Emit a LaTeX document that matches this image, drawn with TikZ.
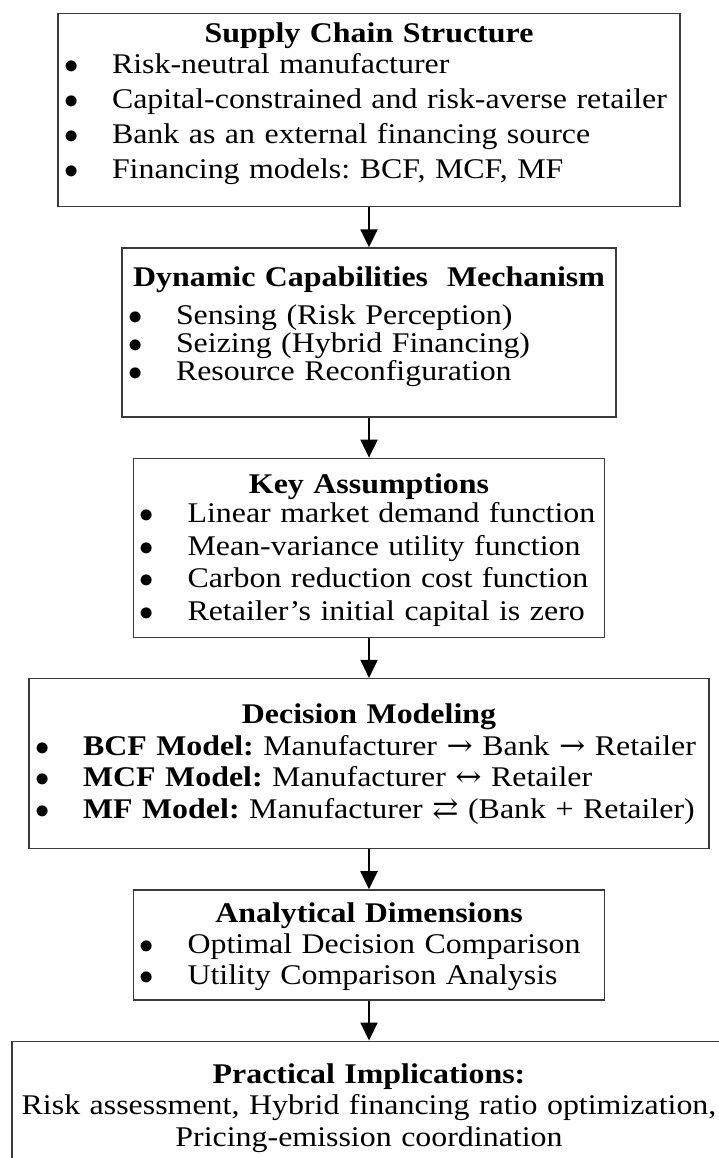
\documentclass[tikz,border=0pt]{standalone}
\usepackage{fix-cm}
\usepackage{fontspec}
\setmainfont{Liberation Serif}[FakeStretch=1.12]
\newfontfamily\arrowfont{DejaVu Serif}[FakeStretch=1.1]
\usetikzlibrary{arrows.meta, positioning}
\definecolor{framegray}{HTML}{3A3A3A}
% one bullet line, flush left inside the panel
\newcommand{\bitem}[1]{\makebox[\linewidth][l]{\hspace*{6pt}\makebox[48pt][l]{$\bullet$}#1}}
\newcommand{\arr}[1]{{\arrowfont #1}}
\frenchspacing

\begin{document}
\begin{tikzpicture}[
    x=1pt, y=1pt,
    node distance=40pt,
    panel/.style={rectangle, draw=framegray, line width=1.3pt, inner xsep=0pt, inner ysep=0pt, align=center},
    arrow/.style={-{Triangle[length=18pt, width=17pt]}, line width=2pt}
]
\useasboundingbox (0,0) rectangle (718,-1158);

\node[panel, anchor=north, text width=622pt, text height=29pt, text depth=164pt,
      font=\fontsize{28.5}{35}\selectfont] (structure) at (369,-13)
    {\textbf{Supply Chain Structure}\\[-4pt]
     \bitem{Risk-neutral manufacturer}\\
     \bitem{Capital-constrained and risk-averse retailer}\\
     \bitem{Bank as an external financing source}\\
     \bitem{Financing models: BCF, MCF, MF}};

\node[panel, below=of structure, text width=494pt, text height=39pt, text depth=130pt,
      font=\fontsize{28.5}{28}\selectfont] (mechanism)
    {\textbf{Dynamic Capabilities~ Mechanism}\\[10pt]
     \bitem{Sensing (Risk Perception)}\\
     \bitem{Seizing (Hybrid Financing)}\\
     \bitem{Resource Reconfiguration}};

\node[panel, below=of mechanism, text width=471pt, text height=35pt, text depth=144pt,
      font=\fontsize{28.5}{32.5}\selectfont] (assumptions)
    {\textbf{Key Assumptions}\\[-3pt]
     \bitem{Linear market demand function}\\
     \bitem{Mean-variance utility function}\\
     \bitem{Carbon reduction cost function}\\
     \bitem{Retailer's initial capital is zero}};

\node[panel, below=of assumptions, text width=680pt, text height=45pt, text depth=125pt,
      font=\fontsize{28.5}{31.5}\selectfont] (modeling)
    {\textbf{Decision Modeling}\\
     \bitem{\textbf{BCF Model:} Manufacturer \arr{→} Bank \arr{→} Retailer}\\
     \bitem{\textbf{MCF Model:} Manufacturer \arr{↔} Retailer}\\
     \bitem{\textbf{MF Model:} Manufacturer \arr{⇄} (Bank + Retailer)}};

\node[panel, below=of modeling, text width=471pt, text height=33pt, text depth=77pt,
      font=\fontsize{28.5}{31}\selectfont] (dimensions)
    {\textbf{Analytical Dimensions}\\
     \bitem{Optimal Decision Comparison}\\
     \bitem{Utility Comparison Analysis}};

\node[panel, below=of dimensions, text width=714pt, text height=42pt, text depth=95pt,
      font=\fontsize{28.5}{31.5}\selectfont] (implications)
    {\textbf{Practical Implications:}\\
     Risk assessment, Hybrid financing ratio optimization,\\
     Pricing-emission coordination};

\draw[arrow] (structure) -- (mechanism);
\draw[arrow] (mechanism) -- (assumptions);
\draw[arrow] (assumptions) -- (modeling);
\draw[arrow] (modeling) -- (dimensions);
\draw[arrow] (dimensions) -- (implications);

\end{tikzpicture}
\end{document}
